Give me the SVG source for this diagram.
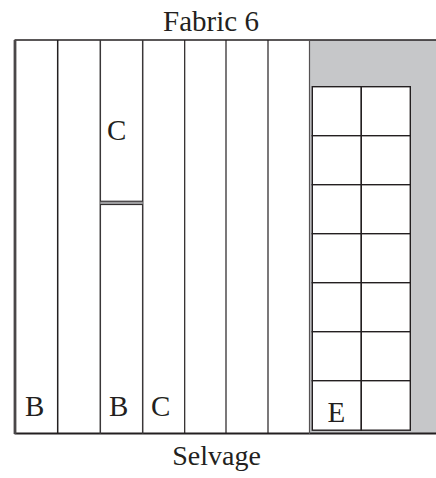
<svg xmlns="http://www.w3.org/2000/svg" width="436" height="478" viewBox="0 0 436 478">
<style>
.ln{stroke:#231f20;stroke-width:1.5;fill:none}
.cell{fill:#ffffff;stroke:#231f20;stroke-width:1.4}
.lbl{font-family:"Liberation Serif",serif;font-size:29px;fill:#231f20}
.ttl{font-family:"Liberation Serif",serif;font-size:29px;fill:#231f20;text-anchor:middle}
</style>
<rect width="436" height="478" fill="#ffffff"/>
<text class="ttl" x="211" y="31">Fabric 6</text>
<text class="ttl" x="216.5" y="464.5" style="font-size:28px">Selvage</text>
<g id="fabric">
<rect x="309.5" y="40" width="126.5" height="394" fill="#c6c7c9"/>
<line class="ln" x1="14.5" y1="40" x2="436" y2="40"/>
<line class="ln" x1="14.5" y1="433.5" x2="436" y2="433.5" style="stroke-width:2"/>
<line class="ln" x1="15" y1="40" x2="15" y2="434" style="stroke-width:2.8;stroke:#4a4748"/>
</g>
<g id="strips">
<line class="ln" x1="57.7" y1="40" x2="57.7" y2="434"/>
<line class="ln" x1="100.3" y1="40" x2="100.3" y2="434" style="stroke:#3a3738"/>
<line class="ln" x1="142.7" y1="40" x2="142.7" y2="434" style="stroke:#3a3738"/>
<line class="ln" x1="184.7" y1="40" x2="184.7" y2="434" style="stroke-width:1.2"/>
<line class="ln" x1="226" y1="40" x2="226" y2="434" style="stroke-width:1.2"/>
<line class="ln" x1="268" y1="40" x2="268" y2="434" style="stroke-width:1.2"/>
<line class="ln" x1="309.5" y1="40" x2="309.5" y2="434" style="stroke:#555253;stroke-width:1.2"/>
</g>
<g id="cut-C-top">
<rect x="100.3" y="201.2" width="42.4" height="3.4" fill="#9c9c9e"/>
<line class="ln" x1="100.3" y1="201.2" x2="142.7" y2="201.2" style="stroke-width:1"/>
<line class="ln" x1="100.3" y1="204.6" x2="142.7" y2="204.6" style="stroke-width:1"/>
<text class="lbl" x="107" y="140">C</text>
</g>
<g id="labels">
<text class="lbl" x="25" y="416">B</text>
<text class="lbl" x="109" y="416">B</text>
<text class="lbl" x="151" y="416">C</text>
</g>
<g id="grid-E">
<rect class="cell" x="312.3" y="86.7" width="49" height="49"/>
<rect class="cell" x="361.3" y="86.7" width="49" height="49"/>
<rect class="cell" x="312.3" y="135.7" width="49" height="49"/>
<rect class="cell" x="361.3" y="135.7" width="49" height="49"/>
<rect class="cell" x="312.3" y="184.7" width="49" height="49"/>
<rect class="cell" x="361.3" y="184.7" width="49" height="49"/>
<rect class="cell" x="312.3" y="233.7" width="49" height="49"/>
<rect class="cell" x="361.3" y="233.7" width="49" height="49"/>
<rect class="cell" x="312.3" y="282.7" width="49" height="49"/>
<rect class="cell" x="361.3" y="282.7" width="49" height="49"/>
<rect class="cell" x="312.3" y="331.7" width="49" height="49"/>
<rect class="cell" x="361.3" y="331.7" width="49" height="49"/>
<rect class="cell" x="312.3" y="380.7" width="49" height="49.5"/>
<rect class="cell" x="361.3" y="380.7" width="49" height="49.5"/>
<text class="lbl" x="327.5" y="421.5">E</text>
</g>
</svg>
